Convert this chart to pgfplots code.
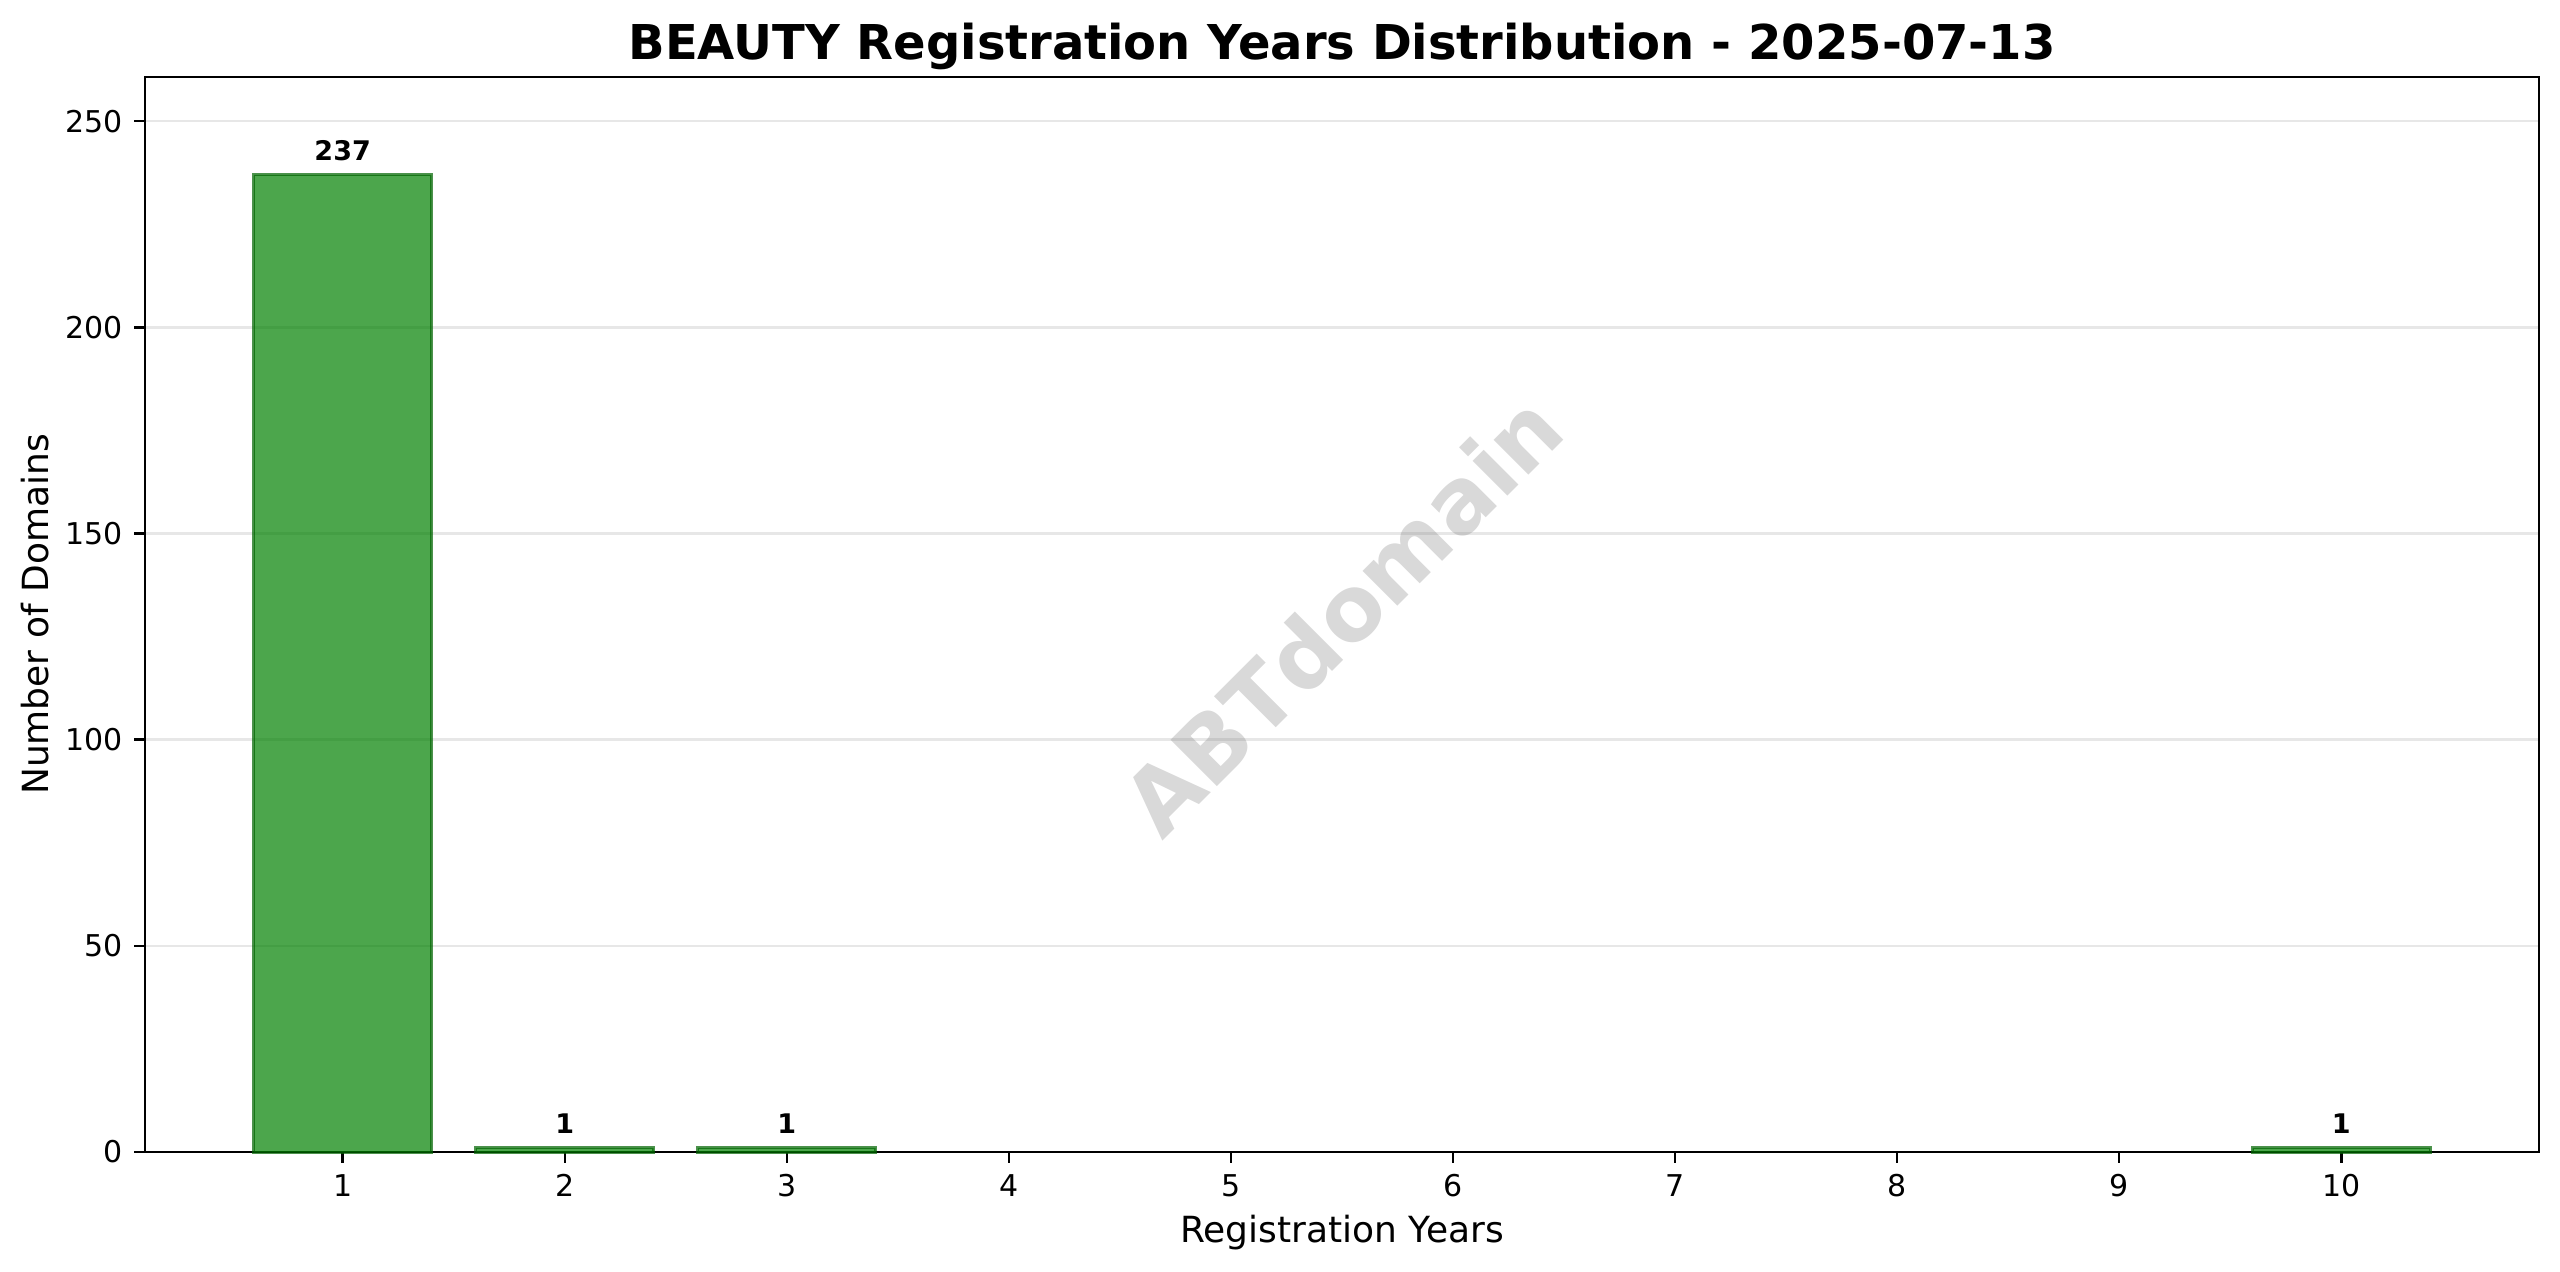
\documentclass[border=0pt]{standalone}
\usepackage{fontspec}
\setmainfont{DejaVu Sans}
\usepackage{pgfplots}
\pgfplotsset{compat=1.18}
\definecolor{barfill}{RGB}{0,128,0}
\definecolor{baredge}{RGB}{0,100,0}
\definecolor{gridgray}{RGB}{231,231,231}
\definecolor{wmgray}{RGB}{128,128,128}

\begin{document}
\begin{tikzpicture}
\useasboundingbox (-48.33pt,-39.67pt) rectangle (805pt,384pt);
\begin{axis}[
    at={(0,0)}, anchor=south west,
    width=798pt, height=358.3pt, scale only axis,
    xmin=0.11, xmax=10.89,
    ymin=0, ymax=260.7,
    xtick={1,...,10},
    ytick={0,50,...,250},
    tick align=outside,
    major tick length=3.5pt,
    every tick/.style={black, line width=0.8pt},
    axis line style={line width=0.8pt},
    xtick pos=bottom, ytick pos=left,
    ymajorgrids,
    major grid style={gridgray, line width=0.8pt},
    /pgf/number format/assume math mode=true,
    tick label style={font=\fontsize{10}{12}\selectfont, inner sep=0pt},
    xticklabel style={anchor=north, yshift=-3.8pt},
    yticklabel style={anchor=east, xshift=-3.8pt},
    ybar, bar width=0.8,
    clip=false,
]
\addplot[fill=barfill, fill opacity=0.7, draw=baredge, draw opacity=0.7, line width=1pt,
    nodes near coords,
    every node near coord/.append style={font=\bfseries\fontsize{9}{11}\selectfont,
        anchor=base, yshift=4.7pt, inner sep=0pt, text=black,
        text opacity=1, fill opacity=1, draw opacity=1}]
    coordinates {(1,237) (2,1) (3,1) (10,1)};
\node[rotate=45, font=\bfseries\fontsize{30}{36}\selectfont, text=wmgray, text opacity=0.3]
    at (rel axis cs:0.5,0.5) {ABTdomain};
\end{axis}
\node[anchor=base, font=\bfseries\fontsize{16}{19}\selectfont] at (399pt,364.3pt)
    {BEAUTY Registration Years Distribution - 2025-07-13};
\node[anchor=base, font=\fontsize{12}{14}\selectfont] at (399pt,-30.3pt) {Registration Years};
\node[rotate=90, anchor=base, font=\fontsize{12}{14}\selectfont] at (-32.3pt,179.15pt) {Number of Domains};
\end{tikzpicture}
\end{document}
